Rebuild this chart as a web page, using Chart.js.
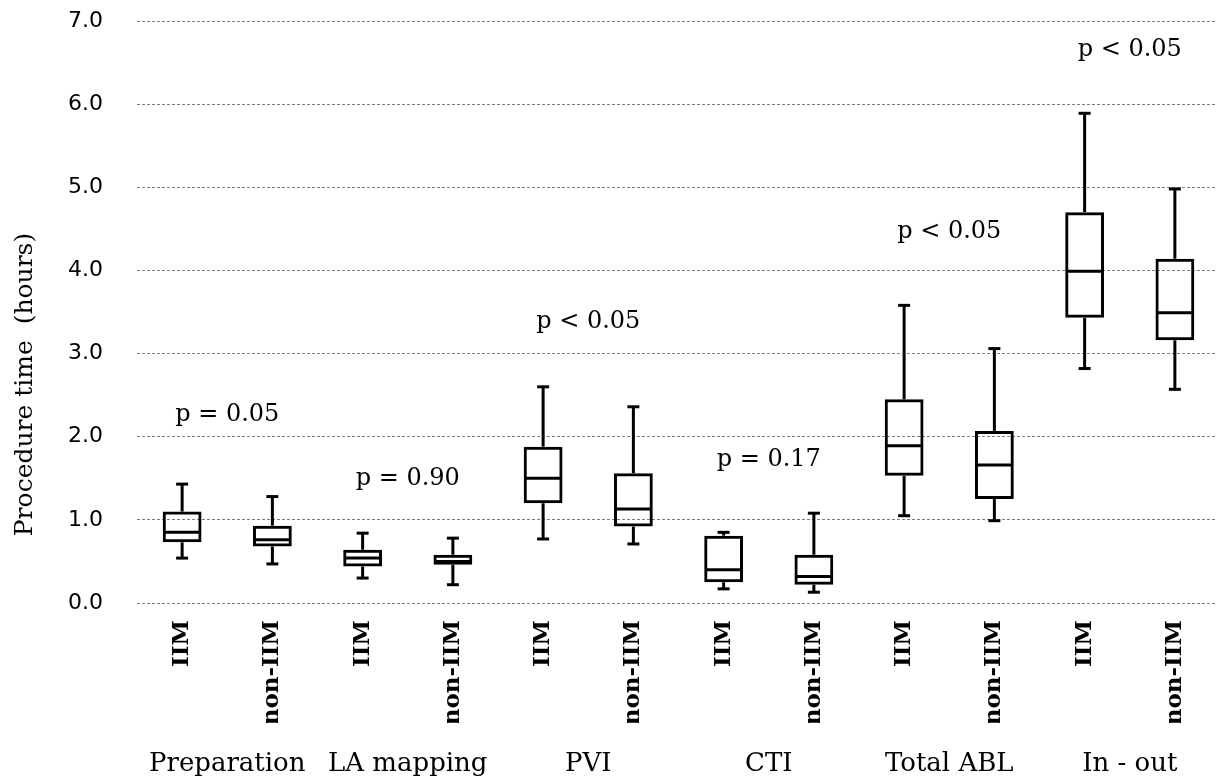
<!DOCTYPE html>
<html>
<head>
<meta charset="utf-8">
<script src="https://cdn.jsdelivr.net/npm/chart.js@4"></script>
<style>
 html,body{margin:0;padding:0;background:#fff;overflow:hidden;}
 #wrap{width:1220px;height:783px;}
</style>
</head>
<body>
<div id="wrap"><canvas id="chart" width="1220" height="783"></canvas></div>
<script>
// groups and arms
const groups=["Preparation","LA mapping","PVI","CTI","Total ABL","In - out"];
const arms=["IIM","non-IIM"];
const categories=groups.flatMap(()=>arms);

// box plot values (hours)
const whiskerLow =[0.54,0.47,0.30,0.22,0.77,0.71,0.17,0.13,1.05,0.99,2.82,2.57];
const q1         =[0.73,0.68,0.44,0.46,1.20,0.92,0.25,0.22,1.53,1.25,3.43,3.16];
const median     =[0.85,0.76,0.54,0.50,1.50,1.13,0.40,0.32,1.89,1.66,3.99,3.49];
const q3         =[1.10,0.93,0.64,0.58,1.88,1.56,0.81,0.58,2.45,2.07,4.70,4.14];
const whiskerHigh=[1.43,1.28,0.84,0.78,2.60,2.36,0.85,1.08,3.58,3.06,5.89,4.98];

// p values per group and their height (hours)
const pLabels=["p = 0.05","p = 0.90","p < 0.05","p = 0.17","p < 0.05","p < 0.05"];
const pLabelY=[2.26,1.50,3.38,1.72,4.47,6.65];

const yTitle="Procedure time  (hours)";

const boxPlugin={
 id:"boxExtras",
 afterDatasetsDraw(chart){
  const ctx=chart.ctx, y=chart.scales.y;
  const meta=chart.getDatasetMeta(0);
  const line=(x1,y1,x2,y2)=>{ctx.beginPath();ctx.moveTo(x1,y1);ctx.lineTo(x2,y2);ctx.stroke();};
  ctx.save();
  ctx.strokeStyle="#000";
  ctx.lineWidth=3;
  meta.data.forEach((bar,i)=>{
   const cx=bar.x, half=bar.width/2;
   const yMed=y.getPixelForValue(median[i]);
   const yHi=y.getPixelForValue(whiskerHigh[i]);
   const yLo=y.getPixelForValue(whiskerLow[i]);
   line(cx-half+1,yMed,cx+half-1,yMed);
   line(cx,y.getPixelForValue(q3[i]),cx,yHi);
   line(cx,y.getPixelForValue(q1[i]),cx,yLo);
   line(cx-6,yHi,cx+6,yHi);
   line(cx-6,yLo,cx+6,yLo);
  });
  ctx.restore();
 },
 afterDraw(chart){
  const ctx=chart.ctx, x=chart.scales.x, y=chart.scales.y;
  ctx.save();
  ctx.fillStyle="#000";
  ctx.textAlign="center";
  groups.forEach((g,k)=>{
   const cx=(x.getPixelForValue(2*k)+x.getPixelForValue(2*k+1))/2;
   ctx.font="24px 'DejaVu Serif'";
   ctx.textBaseline="middle";
   ctx.fillText(pLabels[k],cx,y.getPixelForValue(pLabelY[k]));
   ctx.font="26px 'DejaVu Serif'";
   ctx.textBaseline="alphabetic";
   ctx.fillText(g,cx,chart.height-12);
  });
  ctx.translate(25,chart.height/2-7);
  ctx.rotate(-Math.PI/2);
  ctx.font="25px 'DejaVu Serif'";
  ctx.textBaseline="middle";
  ctx.fillText(yTitle,0,0);
  ctx.restore();
 }
};

new Chart(document.getElementById("chart"),{
 type:"bar",
 data:{
  labels:categories,
  datasets:[{
   data:q1.map((v,i)=>[v,q3[i]]),
   backgroundColor:"rgba(0,0,0,0)",
   borderColor:"#000",
   borderWidth:3,
   borderSkipped:false,
   barPercentage:0.43,
   categoryPercentage:1
  }]
 },
 options:{
  responsive:false,
  animation:false,
  layout:{padding:{left:68,top:21,right:0,bottom:60}},
  plugins:{legend:{display:false},tooltip:{enabled:false}},
  scales:{
   x:{
    grid:{display:false,drawTicks:false},
    border:{display:false},
    afterFit:s=>{s.height=120;},
    ticks:{autoSkip:false,maxRotation:90,minRotation:90,padding:17,color:"#000",
     font:{family:"DejaVu Serif",size:23,weight:"bold"}}
   },
   y:{
    min:0,max:7,
    grid:{color:"rgba(0,0,0,0.5)",lineWidth:1,drawTicks:false},
    border:{display:false,dash:[3,2]},
    afterFit:s=>{s.width=69;},
    ticks:{stepSize:1,padding:2,crossAlign:"far",color:"#000",
     font:{family:"DejaVu Sans",size:22},
     callback:v=>v.toFixed(1)}
   }
  }
 },
 plugins:[boxPlugin]
});
</script>
</body>
</html>
